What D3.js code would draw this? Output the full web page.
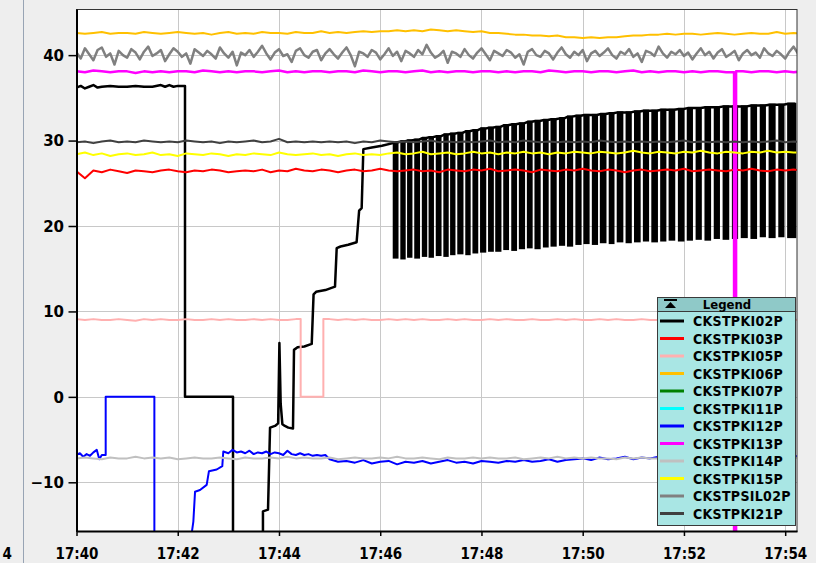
<!DOCTYPE html>
<html>
<head>
<meta charset="utf-8">
<script src="https://cdn.jsdelivr.net/npm/d3@7"></script>
<style>
  html, body { margin: 0; padding: 0; background: #eeeeee; }
  svg { display: block; }
  .cond { font-family: 'DejaVu Sans Condensed', 'DejaVu Sans', sans-serif; font-stretch: condensed; font-weight: bold; }
  .wide { font-family: 'DejaVu Sans', sans-serif; font-weight: bold; }
</style>
</head>
<body>
<svg id="chart" width="816" height="563"></svg>
<script>
// ---- Trend data: seconds after 17:40:00, engineering values ----
const SAMPLE_STEP = 10;      // seconds between regular samples
const SIL_STEP = 5;          // CKSTPSIL02P is logged faster

const seriesNames = ["CKSTPKI02P", "CKSTPKI03P", "CKSTPKI05P", "CKSTPKI06P", "CKSTPKI07P", "CKSTPKI11P",
                     "CKSTPKI12P", "CKSTPKI13P", "CKSTPKI14P", "CKSTPKI15P", "CKSTPSIL02P", "CKSTPKI21P"];
const seriesColors = ["#000000", "#ff0000", "#ffb0b0", "#ffc000", "#008000", "#00ffff",
                      "#0000ff", "#ff00ff", "#c0c0c0", "#ffff00", "#808080", "#404040"];
const seriesWidths = [2.5, 2, 2, 2, 2, 2, 2, 2.5, 2, 2, 2.5, 2];

const yTicks = [-10, 0, 10, 20, 30, 40];
const xTickMinutes = [0, 2, 4, 6, 8, 10, 12, 14];

// CKSTPKI02P before cycling starts: [sec, value]
const ki02Start = [[0,36.2],[5,36.4],[10,36.1],[15,36.3],[20,36.5],[25,36.2],[30,36.3],[40,36.4],[50,36.3],
  [60,36.3],[70,36.4],[80,36.3],[90,36.3],[100,36.5],[105,36.3],[110,36.5],[115,36.3],[120,36.4],[128.6,36.4],
  [128.6,0],[185.5,0],[185.5,-25],[221,-25],[221,-13.4],[227,-13.2],[229.4,-3.6],[235.3,-3.4],[239,-3.1],
  [240.5,6.3],[242,-0.8],[244,-3.2],[247,-3.4],[251,-3.6],[256.6,-3.7],[257.8,5.5],[262,5.8],[270,5.9],
  [278.8,6.2],[281,12.0],[284,12.3],[295,12.5],[306.4,12.9],[308.4,17.4],[313,17.6],[322,17.8],[332,18.1],
  [335,21.8],[338,22.1],[340,29.0],[350,29.2],[362,29.4],[375,29.7]];

// CKSTPKI02P on/off cycling: [start sec, end sec, upper value, lower value]
const ki02Cycles = [
  [376,380.5,29.8,16.3],[385,389,29.9,16.2],[393,397,30.0,16.4],[401.5,406,30.1,16.3],[410.5,414.5,30.3,16.5],
  [418.5,422.5,30.4,16.4],[427,431.5,30.5,16.6],[436,440,30.7,16.5],[444,448,30.8,16.7],[452.5,457.5,30.9,16.8],
  [462,466,31.1,16.7],[470.5,475,31.2,16.9],[479.5,484.5,31.4,17.0],[489,493.5,31.5,17.1],[497.5,502.5,31.6,17.1],
  [507,511.5,31.8,17.3],[516.5,521,31.9,17.2],[525.5,530.5,32.0,17.4],[535,539.5,32.2,17.5],[544,549,32.3,17.4],
  [554,558.5,32.4,17.6],[563,568,32.5,17.7],[573,578,32.6,17.8],[582.5,587.5,32.8,17.7],[592.5,597.5,32.9,17.9],
  [602,607,33.0,18.0],[612,617,33.0,17.9],[621.5,627,33.1,18.1],[632,636.5,33.2,18.0],[641.5,647,33.3,18.2],
  [652,657,33.3,18.1],[662,667.5,33.4,18.2],[672.5,677.5,33.5,18.3],[682.5,688,33.5,18.2],[693,698,33.6,18.3],
  [703,708.5,33.6,18.4],[714,719.5,33.7,18.3],[724.5,729.5,33.8,18.4],[735,740,33.8,18.5],[745.5,751,33.9,18.4],
  [756.5,761.5,33.9,18.6],[767,772.5,34.0,18.5],[778,783,34.0,18.6],[788.5,794.5,34.0,18.7],[800,805.5,34.1,18.6],
  [811,816,34.1,18.8],[821.5,827.5,34.2,18.7],[833,838,34.2,18.8],[843.5,852,34.3,18.7]];

const ki03Values = [
  26.4,25.6,26.5,26.3,26.6,26.4,26.2,26.5,26.4,26.3, 26.5,26.6,26.4,26.3,26.5,26.4,26.6,26.5,26.3,26.4,
  26.5,26.4,26.6,26.3,26.5,26.4,26.7,26.5,26.4,26.6, 26.5,26.3,26.5,26.6,26.4,26.5,26.7,26.5,26.4,26.5,
  26.6,26.4,26.5,26.3,26.6,26.5,26.4,26.6,26.5,26.7, 26.4,26.5,26.6,26.5,26.3,26.6,26.5,26.4,26.6,26.5,
  26.7,26.5,26.4,26.6,26.5,26.3,26.5,26.6,26.4,26.5, 26.6,26.5,26.7,26.4,26.5,26.6,26.5,26.4,26.6,26.5,
  26.7,26.5,26.4,26.6,26.5,26.6,26.5];

const ki05Values = [
  9.1,9.0,9.1,9.0,9.0,9.1,9.0,8.9,9.1,9.0, 9.1,9.0,9.0,9.1,9.0,9.0,9.1,9.0,9.1,9.0,
  9.0,9.1,9.0,9.1,9.0,9.0,9.1,9.0,9.0,9.0, 9.1,9.0,9.1,9.0,9.1,9.0,9.0,9.1,9.0,9.1,
  9.0,9.1,9.0,9.0,9.1,9.0,9.1,9.0,9.0,9.1, 9.0,9.1,9.0,9.0,9.1,9.0,9.0,9.1,9.0,9.1,
  9.0,9.0,9.1,9.0,9.1,9.0,9.0,9.1,9.0,9.0, 9.1,9.0,9.0,9.1,9.0,9.1,9.0,9.0,9.1,9.0,
  9.0,9.1,9.0,9.0,9.1,9.0,9.1];
const ki05Dropout = [265.7, 292.6, 0];   // [from sec, to sec, value held]

const ki06Values = [
  42.6,42.5,42.6,42.7,42.5,42.6,42.6,42.5,42.7,42.6, 42.5,42.6,42.7,42.6,42.5,42.6,42.4,42.6,42.7,42.5,
  42.6,42.5,42.7,42.6,42.6,42.5,42.7,42.6,42.6,42.8, 42.6,42.7,42.6,42.7,42.8,42.7,42.8,42.8,42.9,42.8,
  42.9,42.8,43.0,42.9,42.8,42.9,42.8,42.7,42.8,42.6, 42.6,42.5,42.4,42.4,42.3,42.3,42.2,42.3,42.1,42.1,
  42.0,42.1,42.0,42.1,42.1,42.2,42.3,42.3,42.4,42.4, 42.5,42.4,42.5,42.5,42.4,42.5,42.6,42.5,42.4,42.5,
  42.6,42.5,42.5,42.7,42.5,42.6,42.5];

const ki07Values = [];   // no samples in this window
const ki11Values = [];   // no samples in this window

// CKSTPKI12P: [sec, value]
const ki12Points = [[0,-6.8],[4,-6.6],[8,-7.0],[12,-6.7],[16,-6.9],[20,-6.5],[24,-6.2],[27,-7.3],[30,-6.8],
  [34.6,-6.8],[34.6,0],[92.3,0],[92.3,-25],[136.5,-25],[136.5,-16],[138.5,-14.6],[140.5,-11.1],[146.4,-10.9],
  [154.3,-10.3],[157,-8.7],[166.2,-8.5],[172.8,-8.1],[174,-6.4],[180,-6.6],[185,-6.2],[190,-6.5],[195,-6.4],
  [200,-6.6],[205,-6.3],[210,-6.7],[215,-6.5],[220,-6.6],[225,-6.4],[230,-6.7],[235,-6.5],[240,-6.6],
  [245,-6.8],[250,-6.3],[255,-6.7],[260,-6.8],[265,-6.6],[270,-6.8],[275,-6.7],[280,-6.9],[285,-6.8],
  [290,-6.9],[295,-6.8],[300,-7.3],[310,-7.6],[320,-7.5],[330,-7.7],[340,-7.4],[350,-7.8],[360,-7.6],
  [370,-7.5],[380,-7.9],[390,-7.6],[400,-7.7],[410,-7.5],[420,-7.8],[430,-7.6],[440,-7.4],[450,-7.7],
  [460,-7.6],[470,-7.8],[480,-7.5],[490,-7.6],[500,-7.7],[510,-7.5],[520,-7.6],[530,-7.4],[540,-7.6],
  [550,-7.5],[560,-7.3],[570,-7.6],[580,-7.4],[590,-7.3],[600,-7.2],[610,-7.4],[620,-7.1],[630,-7.3],
  [640,-7.2],[650,-7.0],[660,-7.3],[670,-7.1],[680,-7.2],[690,-7.0],[700,-7.1],[710,-6.9],[720,-7.2],
  [730,-7.0],[740,-7.1],[750,-6.9],[760,-7.0],[770,-7.2],[780,-7.0],[790,-6.9],[800,-7.1],[810,-7.0],
  [820,-6.8],[830,-7.0],[840,-6.9],[850,-7.0],[860,-6.9]];

const ki13Values = [
  38.1,38.0,38.2,38.1,38.0,38.1,38.1,37.9,38.1,38.0, 38.1,38.0,38.1,38.1,38.0,38.2,38.1,38.0,38.1,38.0,
  38.1,38.1,38.0,38.1,38.2,38.0,38.1,38.0,38.1,38.1, 38.0,38.1,38.1,38.0,38.2,38.1,38.0,38.1,38.1,38.0,
  38.1,38.2,38.0,38.1,38.0,38.1,38.1,38.0,38.1,38.1, 38.0,38.1,38.0,38.1,38.1,38.0,38.2,38.1,38.0,38.1,
  38.1,38.0,38.1,38.1,38.0,38.1,38.2,38.0,38.1,38.0, 38.1,38.1,38.0,38.1,38.0,38.1,38.1,38.0,38.1,38.1,
  38.0,38.1,38.1,38.0,38.1,38.0,38.1];
const ki13Dropout = [779.4, 781.8, -25];

const ki14Values = [
  -7.2,-7.1,-7.2,-7.3,-7.1,-7.2,-7.2,-7.0,-7.2,-7.1, -7.2,-7.1,-7.3,-7.2,-7.1,-7.2,-7.2,-7.1,-7.2,-7.3,
  -7.1,-7.2,-7.2,-7.1,-7.2,-7.0,-7.2,-7.1,-7.2,-7.2, -7.1,-7.3,-7.2,-7.1,-7.2,-7.2,-7.1,-7.2,-7.0,-7.2,
  -7.2,-7.1,-7.2,-7.3,-7.1,-7.2,-7.2,-7.1,-7.2,-7.1, -7.2,-7.2,-7.1,-7.3,-7.2,-7.1,-7.2,-7.0,-7.2,-7.1,
  -7.2,-7.1,-7.2,-7.2,-7.3,-7.1,-7.2,-7.1,-7.2,-7.2, -7.1,-7.2,-7.1,-7.2,-7.3,-7.1,-7.2,-7.2,-7.1,-7.2,
  -7.1,-7.2,-7.2,-7.1,-7.2,-7.1,-7.2];

const ki15Values = [
  28.4,28.6,28.3,28.5,28.2,28.4,28.5,28.3,28.4,28.6, 28.3,28.4,28.2,28.5,28.4,28.3,28.5,28.4,28.2,28.4,
  28.3,28.5,28.4,28.3,28.6,28.4,28.3,28.4,28.5,28.3, 28.4,28.2,28.4,28.5,28.3,28.4,28.3,28.5,28.6,28.4,
  28.5,28.7,28.4,28.5,28.6,28.4,28.5,28.7,28.5,28.6, 28.4,28.6,28.5,28.7,28.5,28.6,28.4,28.6,28.5,28.7,
  28.6,28.5,28.7,28.6,28.5,28.6,28.8,28.6,28.5,28.7, 28.6,28.5,28.7,28.6,28.8,28.6,28.5,28.7,28.6,28.5,
  28.7,28.6,28.8,28.6,28.7,28.6,28.6];

const sil02Values = [
  40.3,39.6,40.8,40.1,39.4,40.6,40.9,39.8,40.2,38.9,40.5,40.0,39.7,40.7,40.3,39.5,40.4,41.0,39.9,40.2,
  40.6,39.3,40.1,40.8,40.4,39.8,40.2,39.0,40.7,40.3,39.9,40.5,40.1,39.6,40.9,40.2,39.7,40.4,38.8,40.3,
  40.0,40.6,39.8,40.4,41.1,40.2,39.5,40.3,40.7,39.9,40.1,39.2,40.5,40.8,40.0,39.7,40.4,40.6,39.4,40.2,
  40.7,40.1,39.6,40.3,40.9,40.0,38.7,40.4,40.2,39.8,40.6,40.3,39.5,40.1,40.8,39.9,40.4,39.3,40.5,40.2,
  39.8,40.6,40.1,41.2,40.3,39.7,40.0,40.5,39.1,40.4,40.2,39.8,40.7,40.0,39.6,40.3,40.8,40.1,39.4,40.5,
  40.2,39.9,40.6,40.3,39.7,40.1,38.9,40.4,40.7,40.0,39.8,40.5,40.2,39.5,40.3,40.9,40.1,39.7,40.4,40.0,
  40.6,39.3,40.2,40.5,39.9,40.3,40.8,40.0,39.6,40.4,40.1,40.7,39.8,40.2,39.2,40.5,40.3,39.9,41.0,40.2,
  39.7,40.4,40.1,40.6,39.9,40.3,39.5,40.2,40.8,40.0,40.4,39.6,40.3,40.7,39.8,40.1,40.5,39.4,40.2,40.6,
  40.0,40.3,39.7,40.8,40.2,39.9,40.5,40.1,39.6,40.4,41.0,40.2];

const ki21Values = [
  29.8,29.9,29.7,29.9,30.0,29.8,29.9,29.8,30.0,29.9, 29.8,29.9,29.8,30.0,29.9,29.8,29.9,29.7,29.9,29.8,
  29.9,30.0,29.8,29.9,30.2,29.8,29.9,29.8,29.9,29.8, 29.9,29.8,29.9,29.7,29.9,29.8,30.0,29.9,29.8,29.9,
  29.8,29.9,30.0,29.8,29.9,29.8,29.9,29.8,29.9,30.0, 29.8,29.9,29.8,30.0,29.9,29.8,29.9,29.8,29.9,29.8,
  29.9,29.8,30.0,29.9,29.8,29.9,29.8,29.9,29.8,29.9, 29.8,29.9,30.0,29.8,29.9,29.8,29.9,29.8,29.9,29.8,
  29.9,29.8,29.9,30.0,29.8,29.9,29.8];

// ---- helpers ----
const sampled = (vals, step) => vals.map((v, i) => [i * step, v]);
function withDropout(points, drop) {
  const [from, to, level] = drop;
  const before = points.filter(p => p[0] < from);
  const after = points.filter(p => p[0] > to);
  const out = before.slice();
  if (before.length) out.push([from, before[before.length - 1][1]]);
  out.push([from, level], [to, level]);
  if (after.length) out.push([to, after[0][1]]);
  return out.concat(after);
}

// ---- layout ----
const svg = d3.select('#chart');
const t0 = new Date(2000, 0, 1, 17, 40, 0);
const at = s => new Date(t0.getTime() + s * 1000);
const plotL = 76.5, plotR = 797, plotT = 9, plotB = 531;

const x = d3.scaleTime().domain([at(0), at(854)]).range([plotL, plotR]);
const y = d3.scaleLinear().domain([-15.7, 45.4]).range([plotB, plotT]);

// left neighbour strip
svg.append('line').attr('x1', 23.5).attr('x2', 23.5).attr('y1', 0).attr('y2', 563)
  .attr('stroke', '#98a4b4').attr('stroke-width', 1);
svg.append('text').attr('class', 'cond').attr('x', 12).attr('y', 559)
  .attr('text-anchor', 'end').attr('font-size', 15).attr('fill', '#000').text('4');

// plot background
svg.append('rect').attr('x', plotL).attr('y', plotT).attr('width', plotR - plotL).attr('height', plotB - plotT)
  .attr('fill', '#ffffff');

// grid
const grid = svg.append('g').attr('stroke', '#c8c8c8').attr('stroke-width', 1);
const xTickDates = xTickMinutes.map(m => at(m * 60));
grid.selectAll('line.v').data(xTickDates).join('line')
  .attr('x1', d => Math.round(x(d)) + 0.5).attr('x2', d => Math.round(x(d)) + 0.5)
  .attr('y1', plotT).attr('y2', plotB);
grid.selectAll('line.h').data(yTicks).join('line')
  .attr('x1', plotL).attr('x2', plotR)
  .attr('y1', d => Math.round(y(d)) + 0.5).attr('y2', d => Math.round(y(d)) + 0.5);

// series
svg.append('clipPath').attr('id', 'plotClip').append('rect')
  .attr('x', plotL).attr('y', plotT).attr('width', plotR - plotL).attr('height', plotB - plotT);
const plot = svg.append('g').attr('clip-path', 'url(#plotClip)');
const line = d3.line().x(d => x(at(d[0]))).y(d => y(d[1]));

const ki02Top = ki02Start.concat(ki02Cycles.flatMap(c => [[c[0], c[2]], [c[1], c[2]]]));
const seriesPoints = [
  ki02Top,
  sampled(ki03Values, SAMPLE_STEP),
  withDropout(sampled(ki05Values, SAMPLE_STEP), ki05Dropout),
  sampled(ki06Values, SAMPLE_STEP),
  sampled(ki07Values, SAMPLE_STEP),
  sampled(ki11Values, SAMPLE_STEP),
  ki12Points,
  withDropout(sampled(ki13Values, SAMPLE_STEP), ki13Dropout),
  sampled(ki14Values, SAMPLE_STEP),
  sampled(ki15Values, SAMPLE_STEP),
  sampled(sil02Values, SIL_STEP),
  sampled(ki21Values, SAMPLE_STEP)
];

seriesPoints.forEach((pts, i) => {
  const g = plot.append('g');
  if (i === 0) {
    g.selectAll('rect').data(ki02Cycles).join('rect')
      .attr('x', c => x(at(c[0]))).attr('width', c => x(at(c[1])) - x(at(c[0])))
      .attr('y', c => y(c[2])).attr('height', c => y(c[3]) - y(c[2]))
      .attr('fill', seriesColors[0]).attr('stroke', seriesColors[0]).attr('stroke-width', 2);
  }
  if (pts.length) {
    g.append('path').datum(pts).attr('d', line)
      .attr('fill', 'none').attr('stroke', seriesColors[i])
      .attr('stroke-width', seriesWidths[i]).attr('stroke-linejoin', 'round');
  }
});

// frame
svg.append('rect').attr('x', plotL).attr('y', plotT + 0.5).attr('width', plotR - plotL).attr('height', plotB - plotT)
  .attr('fill', 'none').attr('stroke', '#333').attr('stroke-width', 1);

// axes
const xAxis = d3.axisBottom(x).tickValues(xTickDates).tickFormat(d3.timeFormat('%H:%M'))
  .tickSize(5).tickSizeOuter(0);
const gx = svg.append('g').attr('transform', `translate(0,${plotB})`).call(xAxis);
gx.select('.domain').attr('stroke', '#000').attr('stroke-width', 2);
gx.selectAll('.tick line').attr('stroke', '#000').attr('stroke-width', 1.5);
gx.selectAll('.tick text').attr('class', 'cond').attr('font-size', 15).attr('fill', '#000')
  .attr('y', 28).attr('dy', null);
gx.attr('font-family', null).attr('font-size', null);

const yAxis = d3.axisLeft(y).tickValues(yTicks).tickSize(8).tickSizeOuter(0);
const gy = svg.append('g').attr('transform', `translate(${plotL},0)`).call(yAxis);
gy.select('.domain').attr('stroke', '#000').attr('stroke-width', 2);
gy.selectAll('.tick line').attr('stroke', '#000').attr('stroke-width', 1.5);
gy.selectAll('.tick text').attr('class', 'wide').attr('font-size', 15).attr('fill', '#000')
  .attr('x', -12.5).attr('dy', '0.36em');
gy.attr('font-family', null).attr('font-size', null);

// legend
const legX = 657, legY = 297, legW = 138, legH = 228, headH = 14, rowH = 17.5;
const leg = svg.append('g');
leg.append('rect').attr('x', legX + 0.5).attr('y', legY + 0.5).attr('width', legW).attr('height', legH)
  .attr('fill', '#a9e6e4').attr('stroke', '#3a3a3a').attr('stroke-width', 1);
leg.append('rect').attr('x', legX + 0.5).attr('y', legY + 0.5).attr('width', legW).attr('height', headH)
  .attr('fill', '#8fc9c8').attr('stroke', '#3a3a3a').attr('stroke-width', 1);
leg.append('rect').attr('x', 664).attr('y', 299).attr('width', 13).attr('height', 2).attr('fill', '#000');
leg.append('path').attr('d', 'M670.5,302 L665,308 L676,308 Z').attr('fill', '#000');
leg.append('text').attr('class', 'cond').attr('x', 727).attr('y', 309).attr('text-anchor', 'middle')
  .attr('font-size', 13).attr('fill', '#000').text('Legend');
const rows = leg.selectAll('g.row').data(seriesNames).join('g')
  .attr('transform', (d, i) => `translate(0,${321 + i * rowH})`);
rows.append('line').attr('x1', 660).attr('x2', 684).attr('y1', 0).attr('y2', 0)
  .attr('stroke', (d, i) => seriesColors[i]).attr('stroke-width', 3);
rows.append('text').attr('class', 'cond').attr('x', 693).attr('y', 0).attr('dy', '0.36em')
  .attr('font-size', 14).attr('fill', '#000').attr('letter-spacing', 0.3).text(d => d);
</script>
</body>
</html>
